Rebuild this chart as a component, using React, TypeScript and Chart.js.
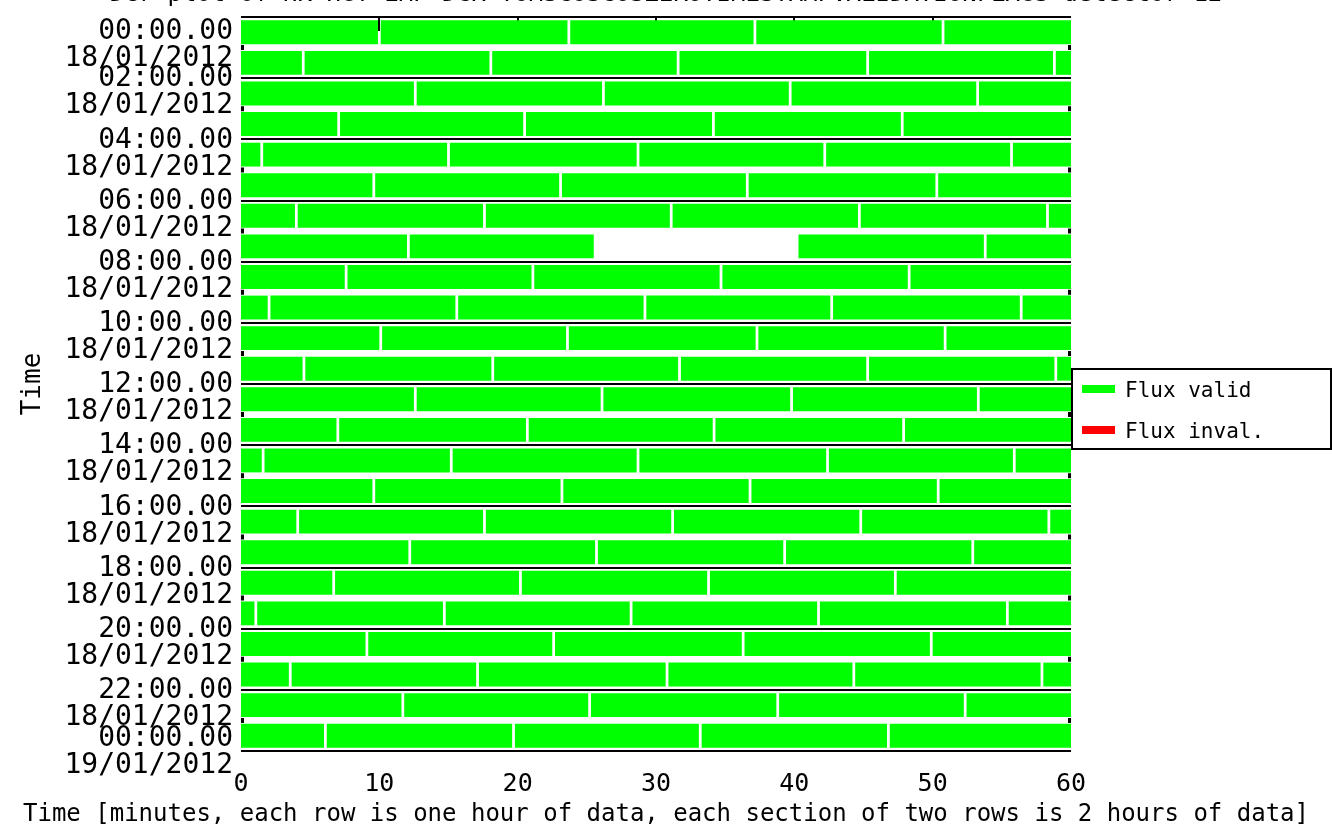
import React, { useEffect, useRef } from 'react';
import { Chart, registerables } from 'chart.js';

Chart.register(...registerables);

const FONT = 'DejaVu Sans Mono';

const TOP_TITLE = 'Dcr plot of HK HGT EMP DCR TOMSCOSCOSZEROTIMESTAMPVALIDATIONFLAGS detector 12';
const X_TITLE = 'Time [minutes, each row is one hour of data, each section of two rows is 2 hours of data]';
const Y_TITLE = 'Time';

const TIME_LABELS = [
  '00:00.00', '02:00.00', '04:00.00', '06:00.00', '08:00.00', '10:00.00', '12:00.00',
  '14:00.00', '16:00.00', '18:00.00', '20:00.00', '22:00.00', '00:00.00',
];
const DATE_LABELS = [
  '18/01/2012', '18/01/2012', '18/01/2012', '18/01/2012', '18/01/2012', '18/01/2012', '18/01/2012',
  '18/01/2012', '18/01/2012', '18/01/2012', '18/01/2012', '18/01/2012', '19/01/2012',
];
const Y_TICK_HOURS = [0, 2, 4, 6, 8, 10, 12, 14, 16, 18, 20, 22, 24];
const MINOR_TICK_HOURS = [1, 3, 5, 7, 9, 11, 13, 15, 17, 19, 21, 23];
const X_TICKS = [0, 10, 20, 30, 40, 50, 60];
const X_MIN = 0;
const X_MAX = 60;
const ROWS = 24;

// minute positions of the section breaks, one list per hour row (row 0 = 00:00-01:00)
const ROW_GAPS: number[][] = [
  [10.0, 23.7, 37.15, 50.75],
  [4.5, 18.06, 31.6, 45.3, 58.8],
  [12.6, 26.2, 39.7, 53.25],
  [7.06, 20.5, 34.15, 47.8],
  [1.5, 15.0, 28.7, 42.2, 55.7],
  [9.6, 23.1, 36.6, 50.3],
  [4.0, 17.6, 31.1, 44.7, 58.3],
  [12.1, 53.8],
  [7.6, 21.1, 34.7, 48.3],
  [2.03, 15.6, 29.2, 42.7, 56.4],
  [10.1, 23.6, 37.3, 50.9],
  [4.55, 18.2, 31.7, 45.3, 58.9],
  [12.6, 26.1, 39.8, 53.3],
  [7.0, 20.7, 34.2, 47.9],
  [1.6, 15.2, 28.7, 42.4, 55.9],
  [9.6, 23.2, 36.8, 50.4],
  [4.1, 17.6, 31.2, 44.8, 58.4],
  [12.2, 25.7, 39.3, 52.9],
  [6.7, 20.2, 33.8, 47.3],
  [1.07, 14.7, 28.2, 41.75, 55.4],
  [9.1, 22.6, 36.3, 49.9],
  [3.56, 17.1, 30.8, 44.3, 57.9],
  [11.7, 25.2, 38.8, 52.35],
  [6.1, 19.7, 33.2, 46.8],
];

// intervals with no data at all (white)
const MISSING_ROWS = [7];
const MISSING_FROM = [25.5];
const MISSING_TO = [40.3];

// invalid-flux intervals (none in this plot)
const INVALID_SEGMENTS: { x: [number, number]; y: number }[] = [];

const GAP_HALF = 0.1;
const GREEN = '#00ff00';
const RED = '#ff0000';

function buildValidSegments() {
  const out: { x: [number, number]; y: number }[] = [];
  ROW_GAPS.forEach((gaps, row) => {
    const bounds = [X_MIN, ...gaps, X_MAX];
    for (let k = 0; k < bounds.length - 1; k++) {
      const s = bounds[k] + (k > 0 ? GAP_HALF : 0);
      const e = bounds[k + 1] - (k < bounds.length - 2 ? GAP_HALF : 0);
      let pieces: [number, number][] = [[s, e]];
      MISSING_ROWS.forEach((mr, i) => {
        if (mr !== row) return;
        const a = MISSING_FROM[i];
        const b = MISSING_TO[i];
        const next: [number, number][] = [];
        pieces.forEach(([ps, pe]) => {
          if (pe <= a || ps >= b) {
            next.push([ps, pe]);
          } else {
            if (ps < a) next.push([ps, a]);
            if (pe > b) next.push([b, pe]);
          }
        });
        pieces = next;
      });
      pieces.forEach((p) => out.push({ x: p, y: row + 0.5 }));
    }
  });
  return out;
}

const edgeTicksPlugin = {
  id: 'edgeTicks',
  beforeDatasetsDraw(chart: any) {
    const { ctx, chartArea: a, scales } = chart;
    ctx.save();
    ctx.strokeStyle = '#000';
    ctx.lineWidth = 2;
    ctx.beginPath();
    X_TICKS.forEach((v) => {
      if (v <= X_MIN || v >= X_MAX) return;
      const x = Math.round(scales.x.getPixelForValue(v));
      ctx.moveTo(x, a.top);
      ctx.lineTo(x, a.top + 14);
    });
    ctx.stroke();
    ctx.lineWidth = 5;
    ctx.beginPath();
    MINOR_TICK_HOURS.forEach((h) => {
      const y = scales.y.getPixelForValue(h);
      ctx.moveTo(a.left, y);
      ctx.lineTo(a.left + 3, y);
      ctx.moveTo(a.right, y);
      ctx.lineTo(a.right - 3, y);
    });
    ctx.stroke();
    ctx.restore();
  },
};

const legendBoxPlugin = {
  id: 'legendBox',
  afterDraw(chart: any) {
    const { ctx, chartArea: a } = chart;
    const items = chart.data.datasets.map((d: any) => ({ label: d.label, color: d.backgroundColor }));
    const left = a.right + 1;
    const top = a.top + 352;
    const w = 259;
    const rowH = 41;
    const h = 80;
    ctx.save();
    ctx.fillStyle = '#fff';
    ctx.fillRect(left, top, w, h);
    ctx.strokeStyle = '#000';
    ctx.lineWidth = 2;
    ctx.strokeRect(left, top, w, h);
    ctx.font = `21px "${FONT}"`;
    ctx.textBaseline = 'middle';
    ctx.textAlign = 'left';
    items.forEach((it: any, i: number) => {
      const cy = top + 20 + i * rowH;
      ctx.fillStyle = it.color;
      ctx.fillRect(left + 10, cy - 4, 33, 8);
      ctx.fillStyle = '#000';
      ctx.fillText(it.label, left + 53, cy + 3);
    });
    ctx.restore();
  },
};

export default function App() {
  const ref = useRef<HTMLCanvasElement | null>(null);

  useEffect(() => {
    if (!ref.current) return;
    const valid = buildValidSegments();
    const chart = new Chart(ref.current, {
      type: 'bar',
      data: {
        datasets: [
          {
            label: 'Flux valid',
            data: valid as any,
            backgroundColor: GREEN,
            borderWidth: 0,
            grouped: false,
            barPercentage: 0.78,
            categoryPercentage: 1,
          } as any,
          {
            label: 'Flux inval.',
            data: INVALID_SEGMENTS as any,
            backgroundColor: RED,
            borderWidth: 0,
            grouped: false,
            barPercentage: 0.78,
            categoryPercentage: 1,
          } as any,
        ],
      },
      options: {
        indexAxis: 'y',
        animation: false,
        responsive: false,
        events: [],
        layout: { padding: 0 },
        scales: {
          y: {
            type: 'linear',
            position: 'left',
            reverse: true,
            offset: false,
            min: 0,
            max: ROWS,
            afterBuildTicks: (s: any) => {
              s.ticks = Y_TICK_HOURS.map((v) => ({ value: v }));
            },
            afterFit: (s: any) => {
              s.width = 241;
              s.paddingTop = 0;
              s.paddingBottom = 0;
            },
            ticks: {
              color: '#000',
              font: { family: FONT, size: 28, lineHeight: '27px' } as any,
              padding: 8,
              autoSkip: false,
              labelOffset: 1,
              callback: (_v: any, i: number) => {
                const t = TIME_LABELS[i];
                const d = DATE_LABELS[i];
                if (i === 0) return ['', '', t, d];
                if (i === TIME_LABELS.length - 1) return [t, d];
                return ['', t, d];
              },
            },
            grid: { color: '#000', lineWidth: 2, drawTicks: false, offset: false },
            border: { display: false },
            title: {
              display: true,
              text: Y_TITLE,
              color: '#000',
              font: { family: FONT, size: 26, lineHeight: 1 },
              padding: { top: 20, bottom: 0 },
            },
          },
          x: {
            type: 'linear',
            position: 'bottom',
            min: X_MIN,
            max: X_MAX,
            offset: false,
            afterBuildTicks: (s: any) => {
              s.ticks = X_TICKS.map((v) => ({ value: v }));
            },
            afterFit: (s: any) => {
              s.height = 52;
              s.paddingLeft = 0;
              s.paddingRight = 0;
            },
            ticks: {
              color: '#000',
              font: { family: FONT, size: 25 },
              padding: 18,
              maxRotation: 0,
              autoSkip: false,
            },
            grid: { display: false, drawTicks: false },
            border: { display: false },
          },
          legendSpace: {
            type: 'linear',
            position: 'right',
            display: true,
            afterFit: (s: any) => {
              s.width = 261;
              s.paddingTop = 0;
              s.paddingBottom = 0;
            },
            ticks: { display: false },
            grid: { display: false, drawTicks: false },
            border: { display: false },
          },
        },
        plugins: {
          legend: { display: false },
          tooltip: { enabled: false },
          title: {
            display: true,
            position: 'bottom',
            text: X_TITLE,
            color: '#000',
            font: { family: FONT, size: 24, weight: 'normal', lineHeight: 1 },
            padding: { top: 0, bottom: 7 },
          },
          subtitle: {
            display: true,
            position: 'top',
            text: TOP_TITLE,
            color: '#000',
            font: { family: FONT, size: 24, weight: 'normal', lineHeight: 1 },
            padding: { top: -17, bottom: 10 },
          },
        },
      } as any,
      plugins: [edgeTicksPlugin, legendBoxPlugin],
    });
    return () => chart.destroy();
  }, []);

  return (
    <div style={{ position: 'absolute', left: 0, top: 0, width: 1332, height: 834, background: '#fff' }}>
      <canvas ref={ref} width={1332} height={834} style={{ display: 'block' }} />
    </div>
  );
}
